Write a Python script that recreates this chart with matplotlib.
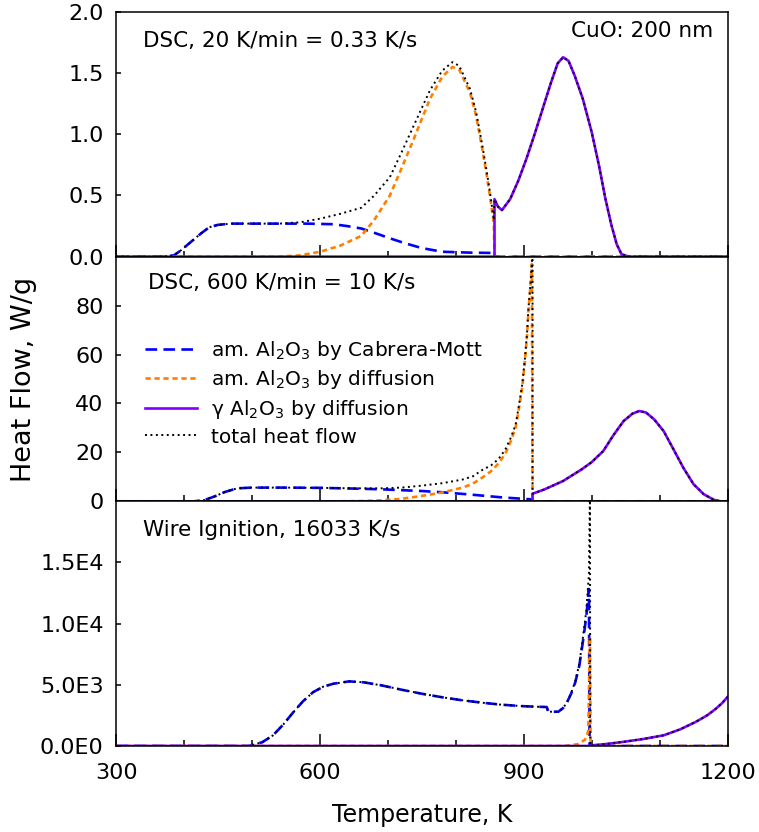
import numpy as np
import matplotlib.pyplot as plt

plt.rcParams['font.family'] = ['DejaVu Sans']
plt.rcParams['mathtext.default'] = 'regular'

# --- panel 1: DSC, 20 K/min ---
t1_cm = [300, 370, 385, 395, 410, 425, 437, 450, 470, 540, 580, 620, 640, 661, 680, 703, 725, 750, 780, 820, 856, 857, 1200]
q1_cm = [0, 0, 0.01, 0.05, 0.12, 0.19, 0.24, 0.26, 0.27, 0.27, 0.27, 0.265, 0.25, 0.23, 0.195, 0.15, 0.11, 0.07, 0.04, 0.033, 0.03, 0, 0]
t1_df = [300, 540, 570, 600, 630, 661, 680, 703, 720, 738, 762, 780, 795, 805, 821, 830, 839, 846, 851, 856, 857, 1200]
q1_df = [0, 0, 0.01, 0.04, 0.09, 0.17, 0.30, 0.50, 0.72, 0.96, 1.29, 1.47, 1.55, 1.53, 1.34, 1.15, 0.88, 0.65, 0.47, 0.27, 0, 0]
t1_g = [300, 857, 857, 862, 868, 880, 892, 904, 916, 928, 940, 950, 958, 966, 975, 987, 1000, 1011, 1020, 1029, 1037, 1044, 1055, 1200]
q1_g = [0, 0, 0.47, 0.41, 0.38, 0.47, 0.62, 0.80, 1.00, 1.21, 1.42, 1.58, 1.63, 1.60, 1.48, 1.29, 1.02, 0.74, 0.48, 0.26, 0.10, 0.02, 0, 0]
t1_tot = [300, 370, 385, 395, 410, 425, 437, 450, 470, 540, 570, 600, 630, 661, 680, 703, 720, 738, 762, 780,
          795, 805, 821, 830, 839, 846, 851, 856, 857, 862, 868, 880, 892, 904, 916, 928, 940, 950, 958, 966,
          975, 987, 1000, 1011, 1020, 1029, 1037, 1044, 1055, 1200]
q1_tot = [0, 0, 0.01, 0.05, 0.12, 0.19, 0.24, 0.26, 0.27, 0.27, 0.28, 0.31, 0.35, 0.40, 0.50, 0.65, 0.85, 1.07, 1.36, 1.52,
          1.59, 1.56, 1.37, 1.18, 0.91, 0.68, 0.50, 0.30, 0.47, 0.41, 0.38, 0.47, 0.62, 0.80, 1.00, 1.21, 1.42, 1.58, 1.63, 1.60,
          1.48, 1.29, 1.02, 0.74, 0.48, 0.26, 0.10, 0.02, 0, 0]

# --- panel 2: DSC, 600 K/min ---
t2_cm = [300, 415, 430, 445, 460, 478, 500, 550, 600, 650, 691, 750, 780, 820, 868, 900, 912, 913, 1200]
q2_cm = [0, 0, 0.5, 2.0, 3.8, 5.3, 5.6, 5.6, 5.5, 5.2, 4.9, 4.2, 3.7, 2.8, 1.6, 1.0, 0.8, 0, 0]
t2_df = [300, 620, 660, 691, 720, 750, 780, 810, 825, 839, 852, 863, 873, 881, 888, 893, 898, 902, 905, 907, 910, 912, 913, 1200]
q2_df = [0, 0, 0.1, 0.4, 1.0, 2.2, 3.6, 5.6, 7.2, 9.7, 12.3, 15.5, 19.5, 24.6, 30, 38, 47, 58, 68, 78, 88, 97, 0, 0]
t2_g = [300, 913, 913, 930, 958, 985, 1000, 1017, 1032, 1047, 1060, 1070, 1080, 1092, 1106, 1120, 1135, 1150, 1165, 1180, 1190, 1200]
q2_g = [0, 0, 3.1, 4.8, 8.3, 13.0, 16.0, 20.5, 27.0, 32.8, 35.8, 36.9, 36.3, 33.5, 28.7, 21.5, 13.7, 7.0, 2.9, 0.6, 0, 0]
t2_tot = [300, 415, 430, 445, 460, 478, 500, 550, 600, 650, 691, 720, 750, 780, 810, 825, 839, 852, 863, 873,
          881, 888, 893, 898, 902, 905, 907, 910, 912, 913, 913, 930, 958, 985, 1000, 1017, 1032, 1047, 1060, 1070,
          1080, 1092, 1106, 1120, 1135, 1150, 1165, 1180, 1190, 1200]
q2_tot = [0, 0, 0.5, 2.0, 3.8, 5.3, 5.6, 5.6, 5.5, 5.3, 5.3, 5.6, 6.4, 7.4, 8.9, 10.2, 12.8, 14.7, 17.3, 21.2,
          26.0, 31.2, 39.1, 48.0, 59, 69, 79, 89, 98, 104, 3.1, 4.8, 8.3, 13.0, 16.0, 20.5, 27.0, 32.8, 35.8, 36.9,
          36.3, 33.5, 28.7, 21.5, 13.7, 7.0, 2.9, 0.6, 0, 0]

# --- panel 3: wire ignition, 16033 K/s ---
t3_cm = [300, 495, 515, 531, 546, 561, 575, 590, 605, 620, 643, 665, 691, 720, 750, 780, 810, 840, 868, 900,
         934, 936, 951, 958, 964, 970, 976, 982, 987, 992, 996, 997, 1200]
q3_cm = [0, 0, 300, 870, 1750, 2770, 3650, 4400, 4850, 5090, 5280, 5200, 4950, 4600, 4270, 3980, 3730, 3530, 3370, 3250,
         3180, 2800, 2800, 3100, 3590, 4300, 5220, 6600, 8480, 10500, 12840, 0, 0]
t3_df = [300, 960, 980, 990, 995, 997.5, 998.5, 1200]
q3_df = [0, 0, 150, 500, 1200, 8900, 0, 0]
t3_g = [300, 998, 1000, 1020, 1046, 1075, 1106, 1130, 1153, 1170, 1183, 1192, 1200]
q3_g = [0, 0, 50, 150, 330, 560, 870, 1350, 1960, 2500, 3050, 3500, 4000]
t3_tot = [300, 495, 515, 531, 546, 561, 575, 590, 605, 620, 643, 665, 691, 720, 750, 780, 810, 840, 868, 900,
          934, 936, 951, 958, 964, 970, 976, 982, 987, 992, 996, 997.5, 998, 1000, 1020, 1046, 1075, 1106, 1130, 1153,
          1170, 1183, 1192, 1200]
q3_tot = [0, 0, 300, 870, 1750, 2770, 3650, 4400, 4850, 5090, 5280, 5200, 4950, 4600, 4270, 3980, 3730, 3530, 3370, 3250,
          3180, 2800, 2800, 3100, 3600, 4350, 5300, 6750, 8800, 11000, 14000, 21000, 0, 50, 150, 330, 560, 870, 1350, 1960,
          2500, 3050, 3500, 4000]

panel_titles = ['DSC, 20 K/min = 0.33 K/s', 'DSC, 600 K/min = 10 K/s', 'Wire Ignition, 16033 K/s']
y_limits = [(0, 2.0), (0, 100), (0, 20000)]
y_ticks = [[0, 0.5, 1.0, 1.5, 2.0], [0, 20, 40, 60, 80], [0, 5000, 10000, 15000]]
y_ticklabels = [['0.0', '0.5', '1.0', '1.5', '2.0'], ['0', '20', '40', '60', '80'],
                ['0.0E0', '5.0E3', '1.0E4', '1.5E4']]
series_labels = [r'am. Al$_2$O$_3$ by Cabrera-Mott', r'am. Al$_2$O$_3$ by diffusion',
                 r'γ Al$_2$O$_3$ by diffusion', 'total heat flow']

panels = [
    [(t1_cm, q1_cm), (t1_df, q1_df), (t1_g, q1_g), (t1_tot, q1_tot)],
    [(t2_cm, q2_cm), (t2_df, q2_df), (t2_g, q2_g), (t2_tot, q2_tot)],
    [(t3_cm, q3_cm), (t3_df, q3_df), (t3_g, q3_g), (t3_tot, q3_tot)],
]

styles = [
    dict(color='#0000ff', lw=1.9, dashes=(4.4, 2.4)),
    dict(color='#ff8000', lw=1.9, dashes=(2.0, 1.4)),
    dict(color='#7f00ff', lw=1.9, linestyle='-'),
    dict(color='black', lw=1.4, dashes=(1.0, 1.8)),
]

fig, axes = plt.subplots(3, 1, sharex=True, figsize=(7.59, 8.32), dpi=100)
fig.subplots_adjust(left=0.153, right=0.9585, bottom=0.1034, top=0.9856, hspace=0)

for i, ax in enumerate(axes):
    lines = []
    for (t, q), st, lab in zip(panels[i], styles, series_labels):
        ln, = ax.plot(t, q, label=lab, **st)
        lines.append(ln)
    ax.set_xlim(300, 1200)
    ax.set_ylim(*y_limits[i])
    ax.set_yticks(y_ticks[i])
    ax.set_yticklabels(y_ticklabels[i])
    ax.set_xticks([300, 600, 900, 1200])
    ax.set_xticks(np.arange(300, 1201, 100), minor=True)
    ax.tick_params(axis='both', which='both', direction='in', labelsize=16, width=1.1)
    ax.tick_params(axis='x', which='major', length=8.5, pad=12)
    ax.tick_params(axis='x', which='minor', length=4.5)
    ax.tick_params(axis='y', which='major', length=3.8, pad=9)
    ax.tick_params(axis='y', which='minor', left=False)
    for sp in ax.spines.values():
        sp.set_linewidth(1.1)
    ax.text(0.044 if i != 1 else 0.052, [0.858, 0.869, 0.857][i], panel_titles[i],
            transform=ax.transAxes, fontsize=15.5, va='baseline', ha='left')
    if i == 1:
        ax.legend(handles=lines, loc='upper left', bbox_to_anchor=(0.047, 0.665),
                  frameon=False, fontsize=14.5, handlelength=2.6, handletextpad=0.7,
                  labelspacing=0.33, borderpad=0, borderaxespad=0)

axes[0].text(0.977, 0.898, 'CuO: 200 nm', transform=axes[0].transAxes,
             fontsize=15.5, va='baseline', ha='right')

fig.text(0.5557, 0.012, 'Temperature, K', fontsize=17, ha='center', va='baseline')
fig.text(0.015, 0.5445, 'Heat Flow, W/g', fontsize=19.5, rotation=90, ha='left', va='center')

fig.savefig('out.png', dpi=100)
